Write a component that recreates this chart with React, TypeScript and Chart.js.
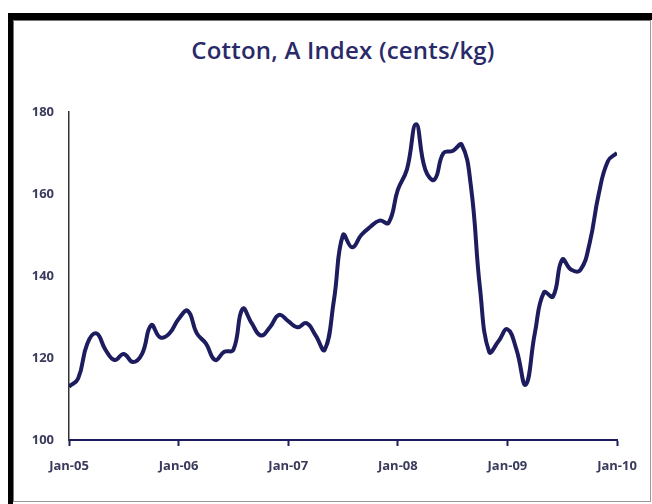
import React, { useEffect, useRef } from "react";
import { Chart, registerables } from "chart.js";

Chart.register(...registerables);

// Monthly Cotton A Index, Jan-05 through Jan-10 (cents/kg)
const y2005 = [113, 115, 123.5, 126, 122, 119.5, 121, 119, 121, 128, 125, 126];
const y2006 = [129.5, 131.5, 126, 123.5, 119.5, 121.5, 122, 132, 128.5, 125.5, 127.5, 130.5];
const y2007 = [129, 127.5, 128.5, 125.5, 122, 134, 150, 147, 150, 152, 153.5, 153];
const y2008 = [161, 166, 177, 166, 163.5, 170, 170.5, 172, 162, 137, 121.5, 124];
const y2009 = [127, 122, 113.5, 126, 136, 135, 144, 141.5, 141.5, 148, 160, 168];
const y2010 = [170];

const indexValues = [...y2005, ...y2006, ...y2007, ...y2008, ...y2009, ...y2010];
const xTickLabels = ["Jan-05", "Jan-06", "Jan-07", "Jan-08", "Jan-09", "Jan-10"];
const titleText = "Cotton, A Index (cents/kg)";

const NAVY = "#1c1c5e";
const LABEL = "#3a3a5c";
const FONT = "'Open Sans', sans-serif";

export default function App() {
  const canvasRef = useRef<HTMLCanvasElement | null>(null);

  useEffect(() => {
    const canvas = canvasRef.current;
    if (!canvas) return;
    const points = indexValues.map((v, i) => ({ x: i, y: v }));
    const chart = new Chart(canvas, {
      type: "line",
      data: {
        datasets: [
          {
            data: points,
            borderColor: NAVY,
            borderWidth: 4,
            pointRadius: 0,
            tension: 0.45,
            fill: false,
          },
        ],
      },
      options: {
        animation: false,
        responsive: false,
        maintainAspectRatio: false,
        layout: { padding: { left: 0, right: 35, top: 112, bottom: 0 } },
        plugins: {
          legend: { display: false },
          tooltip: { enabled: false },
          title: { display: false },
        },
        scales: {
          x: {
            type: "linear",
            min: 0,
            max: 60,
            afterFit: (s: any) => {
              s.height = 64;
            },
            afterBuildTicks: (s: any) => {
              s.ticks = xTickLabels.map((_, i) => ({ value: i * 12 }));
            },
            ticks: {
              autoSkip: false,
              maxRotation: 0,
              padding: 12,
              color: LABEL,
              font: { family: FONT, size: 13, weight: "bold" },
              callback: (v: any) => xTickLabels[Math.round(Number(v) / 12)] ?? "",
            },
            grid: {
              display: true,
              drawOnChartArea: false,
              drawTicks: true,
              tickLength: 6,
              tickWidth: 2,
              color: NAVY,
            },
            border: { display: true, color: NAVY, width: 2 },
          },
          y: {
            min: 100,
            max: 180,
            afterFit: (s: any) => {
              s.width = 69;
            },
            ticks: {
              stepSize: 20,
              padding: 15,
              color: LABEL,
              font: { family: FONT, size: 13, weight: "bold" },
            },
            grid: { display: false, drawTicks: false },
            border: { display: true, color: "#333333", width: 1.5 },
          },
        },
      },
    });
    return () => chart.destroy();
  }, []);

  return (
    <div
      style={{
        position: "fixed",
        left: 0,
        top: 0,
        width: 652,
        height: 504,
        background: "#ffffff",
        overflow: "hidden",
      }}
    >
      <div
        style={{
          position: "absolute",
          left: 8,
          top: 13,
          width: 644,
          height: 491,
          boxSizing: "border-box",
          borderTop: "7px solid #000",
          borderLeft: "5px solid #000",
        }}
      >
        <div
          style={{
            position: "absolute",
            left: 0,
            top: 0,
            width: 636,
            height: 480,
            borderRight: "1px solid #9a9a9a",
            borderBottom: "1px solid #9a9a9a",
            borderTop: "1px solid #777",
            borderLeft: "1px solid #777",
          }}
        />
      </div>
      <div
        style={{
          position: "absolute",
          left: 143,
          width: 400,
          top: 34,
          textAlign: "center",
          fontFamily: FONT,
          fontWeight: 600,
          fontSize: 24,
          lineHeight: "32px",
          letterSpacing: "0.2px",
          color: "#2a2a6a",
        }}
      >
        {titleText}
      </div>
      <canvas
        ref={canvasRef}
        width={652}
        height={504}
        style={{ position: "absolute", left: 0, top: 0, width: 652, height: 504 }}
      />
    </div>
  );
}
